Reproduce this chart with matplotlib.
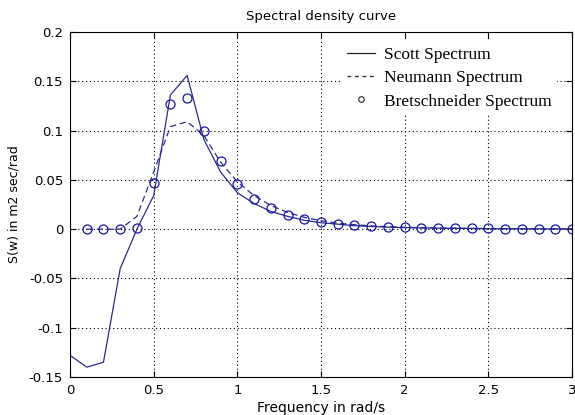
import numpy as np
import matplotlib
matplotlib.use('Agg')
import matplotlib.pyplot as plt
from matplotlib.lines import Line2D

# frequency grid, 0 to 3 rad/s in steps of 0.1
freq = [0.0, 0.1, 0.2, 0.3, 0.4, 0.5, 0.6, 0.7, 0.8, 0.9, 1.0,
        1.1, 1.2, 1.3, 1.4, 1.5, 1.6, 1.7, 1.8, 1.9, 2.0,
        2.1, 2.2, 2.3, 2.4, 2.5, 2.6, 2.7, 2.8, 2.9, 3.0]

scott = [-0.128, -0.140, -0.135, -0.040, 0.000, 0.034, 0.136, 0.156, 0.091, 0.058, 0.037,
         0.026, 0.018, 0.013, 0.009, 0.0065, 0.005, 0.0035, 0.0027, 0.002, 0.0016,
         0.0012, 0.001, 0.0008, 0.0006, 0.0005, 0.0004, 0.0003, 0.0003, 0.0002, 0.0002]

# w = 0 gives NaN for the Neumann and Bretschneider formulas
neumann = [np.nan, 0.0, 0.0, 0.0, 0.013, 0.058, 0.104, 0.109, 0.095, 0.068, 0.048,
           0.034, 0.024, 0.017, 0.012, 0.0085, 0.006, 0.0045, 0.0033, 0.0025, 0.0019,
           0.0015, 0.0012, 0.001, 0.0008, 0.0006, 0.0005, 0.0004, 0.0003, 0.0003, 0.0002]

bretschneider = [np.nan, 0.0, 0.0, 0.0, 0.001, 0.047, 0.127, 0.133, 0.100, 0.069, 0.046,
                 0.031, 0.021, 0.0145, 0.010, 0.007, 0.005, 0.004, 0.003, 0.0024, 0.0019,
                 0.0015, 0.0012, 0.001, 0.0008, 0.0007, 0.0006, 0.0005, 0.0004, 0.0003, 0.0003]

xticks = [0, 0.5, 1, 1.5, 2, 2.5, 3]
yticks = [-0.15, -0.1, -0.05, 0, 0.05, 0.1, 0.15, 0.2]

line_col = '#2a2a8c'
circ_col = '#1515a8'

fig = plt.figure(figsize=(5.75, 4.15), dpi=100)
ax = fig.add_axes([70/575, 1 - 377/415, 502/575, 345/415])

ax.plot(freq, scott, '-', color=line_col, lw=0.9)
ax.plot(freq, neumann, '--', color=line_col, lw=0.9, dashes=(5, 3))
ax.plot(freq, bretschneider, 'o', color=circ_col, markersize=6.5,
        markerfacecolor='none', markeredgewidth=0.9)

ax.set_xlim(0, 3)
ax.set_ylim(-0.15, 0.2)
ax.set_xticks(xticks)
ax.set_yticks(yticks)
ax.set_xticklabels(['%g' % t for t in xticks])
ax.set_yticklabels(['%g' % t for t in yticks])
ax.tick_params(direction='in', top=True, right=True, length=4, width=0.8,
               labelsize=9.5, pad=5)
ax.grid(True, color='black', linestyle=(0, (1, 2.5)), linewidth=0.8)
for s in ax.spines.values():
    s.set_linewidth(0.8)

ax.set_title('Spectral density curve', fontsize=9.5, pad=9)
ax.set_xlabel('Frequency in rad/s', fontsize=10, labelpad=3)
ax.set_ylabel('S(w) in m2 sec/rad', fontsize=9, labelpad=6)

handles = [Line2D([], [], color='#222222', lw=0.9, ls='-'),
           Line2D([], [], color='#222222', lw=0.9, ls='--', dashes=(3, 3)),
           Line2D([], [], color='#222222', marker='o', ls='none', markersize=4,
                  markerfacecolor='none', markeredgewidth=0.8)]
leg = ax.legend(handles, ['Scott Spectrum', 'Neumann Spectrum', 'Bretschneider Spectrum'],
                loc='upper left', bbox_to_anchor=(342/575, 1 - 42/415),
                bbox_transform=fig.transFigure, borderaxespad=0, borderpad=0.3,
                prop={'family': 'Liberation Serif', 'size': 12.5},
                handlelength=1.6, handletextpad=0.5, labelspacing=0.4,
                frameon=True, fancybox=False)
leg.get_frame().set_edgecolor('none')
leg.get_frame().set_facecolor('white')
leg.get_frame().set_alpha(1)

fig.savefig('out.png', dpi=100)
